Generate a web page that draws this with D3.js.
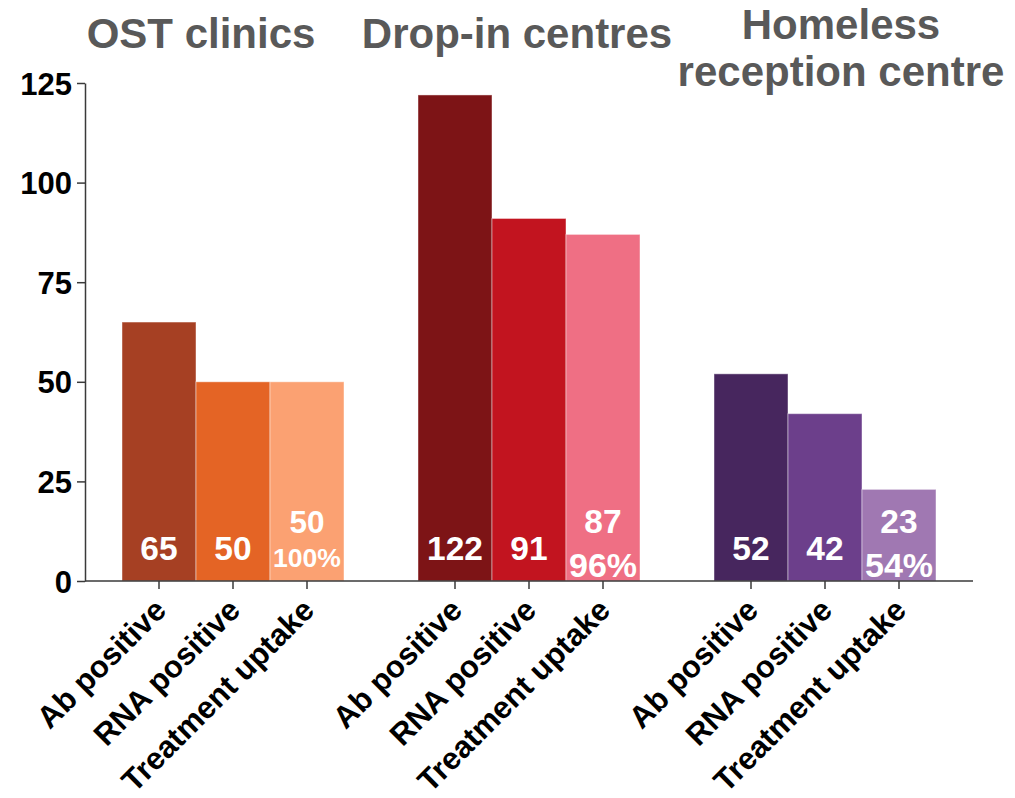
<!DOCTYPE html>
<html>
<head>
<meta charset="utf-8">
<script src="https://cdn.jsdelivr.net/npm/d3@7/dist/d3.min.js"></script>
<style>
  html, body { margin: 0; padding: 0; background: #fff; }
  svg { display: block; font-family: "Liberation Sans", Arial, sans-serif; }
</style>
</head>
<body>
<svg id="chart" width="1015" height="798"></svg>
<script>
// ---- data ----
const groups = ["OST clinics", "Drop-in centres", "Homeless reception centre"];
const groupTitleLines = [["OST clinics"], ["Drop-in centres"], ["Homeless", "reception centre"]];
const measures = ["Ab positive", "RNA positive", "Treatment uptake"];
const ostValues = [65, 50, 50];
const dropInValues = [122, 91, 87];
const homelessValues = [52, 42, 23];
const uptakePercent = ["100%", "96%", "54%"];
const yTickValues = [0, 25, 50, 75, 100, 125];

// ---- styles / layout ----
const palette = [
  ["#A64023", "#E46425", "#FBA172"],
  ["#7D1416", "#C2141F", "#EF6F84"],
  ["#47265E", "#6C3F8B", "#A078B2"]
];
const titleCenters = [201, 517, 841];
const width = 1015, height = 798;
const axisLeftX = 85, axisRightX = 973, yBottom = 581, yTop = 83;

const allValues = [ostValues, dropInValues, homelessValues];
const svg = d3.select("#chart");

// slots: three bars per group with one empty slot between groups
const slots = [];
groups.forEach((g, i) => {
  measures.forEach((m, j) => slots.push(`${i}|${j}`));
  if (i < groups.length - 1) slots.push(`gap${i}`);
});
const barKeys = slots.filter(s => !s.startsWith("gap"));

const x = d3.scaleBand().domain(slots).range([axisLeftX, axisRightX])
  .paddingInner(0).paddingOuter(0.5);
const y = d3.scaleLinear().domain([0, 125]).range([yBottom, yTop]);

const bars = [];
groups.forEach((g, i) => measures.forEach((m, j) => {
  bars.push({ key: `${i}|${j}`, gi: i, mi: j, value: allValues[i][j] });
}));

// bars
svg.append("g").selectAll("rect").data(bars).join("rect")
  .attr("x", d => x(d.key))
  .attr("y", d => y(d.value))
  .attr("width", x.bandwidth())
  .attr("height", d => y(0) - y(d.value))
  .attr("fill", d => palette[d.gi][d.mi])
  .attr("stroke", "rgba(255,255,255,0.45)")
  .attr("stroke-width", 1);

// value labels
const labelG = svg.append("g").attr("fill", "#fff").attr("font-weight", "bold")
  .attr("text-anchor", "middle");
bars.forEach(d => {
  const cx = x(d.key) + x.bandwidth() / 2;
  if (d.mi === 2) {
    const pct = uptakePercent[d.gi];
    const em = pct.length === 4 ? 2.56 : 2.0;
    const pctSize = Math.min(34, (x.bandwidth() - 6) / em);
    const numSize = pctSize < 33 ? 31.5 : 33.5;
    labelG.append("text").attr("x", cx).attr("y", y(0) - 48)
      .attr("font-size", numSize).text(d.value);
    labelG.append("text").attr("x", cx).attr("y", y(0) - 4 - (34 - pctSize) * 1.3)
      .attr("font-size", pctSize).text(pct);
  } else {
    labelG.append("text").attr("x", cx).attr("y", y(0) - 21)
      .attr("font-size", 33.5).text(d.value);
  }
});

// y axis
const yAxis = svg.append("g").attr("transform", `translate(${axisLeftX},0)`)
  .call(d3.axisLeft(y).tickValues(yTickValues).tickSize(8).tickSizeOuter(0).tickPadding(5));
yAxis.selectAll("path, line").attr("stroke", "#3a3a3a").attr("stroke-width", 1.5);
yAxis.selectAll("text").attr("font-size", 31).attr("font-weight", "bold")
  .attr("fill", "#000").attr("font-family", "Liberation Sans, Arial, sans-serif")
  .attr("dy", "0.36em");

// x axis
const xAxis = svg.append("g").attr("transform", `translate(0,${yBottom})`)
  .call(d3.axisBottom(x).tickValues(barKeys).tickSize(8).tickSizeOuter(0)
    .tickFormat(k => measures[+k.split("|")[1]]));
xAxis.select("path.domain").attr("d", `M${axisLeftX},0H${axisRightX}`);
xAxis.selectAll("path, line").attr("stroke", "#3a3a3a").attr("stroke-width", 1.5);
xAxis.selectAll("text")
  .attr("font-size", 31).attr("font-weight", "bold").attr("fill", "#000")
  .attr("font-family", "Liberation Sans, Arial, sans-serif")
  .attr("text-anchor", "end")
  .attr("y", null).attr("dy", null)
  .attr("transform", "translate(9,31) rotate(-45)");

// group titles
const titleG = svg.append("g").attr("fill", "#595959").attr("font-weight", "bold")
  .attr("font-size", 42).attr("text-anchor", "middle");
groupTitleLines.forEach((lines, i) => {
  const baseY = lines.length === 1 ? 48 : 39;
  lines.forEach((line, k) => {
    titleG.append("text").attr("x", titleCenters[i]).attr("y", baseY + k * 47).text(line);
  });
});
</script>
</body>
</html>
